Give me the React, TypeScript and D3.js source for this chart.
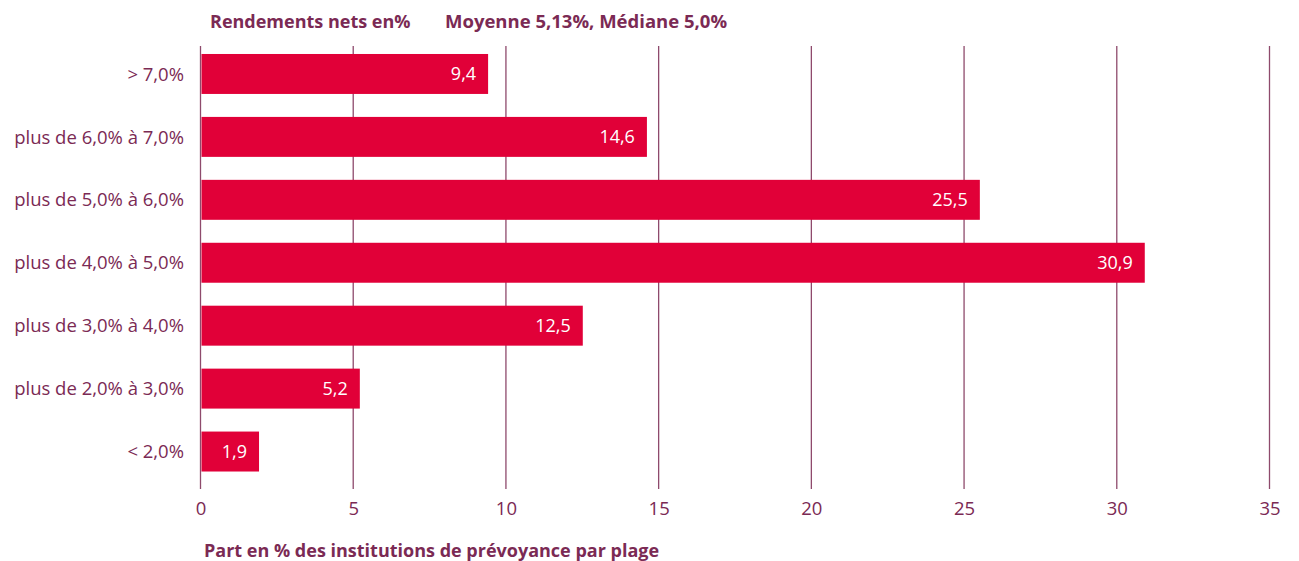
import React from "react";
import * as d3 from "d3";

const categories = [
  "> 7,0%",
  "plus de 6,0% à 7,0%",
  "plus de 5,0% à 6,0%",
  "plus de 4,0% à 5,0%",
  "plus de 3,0% à 4,0%",
  "plus de 2,0% à 3,0%",
  "< 2,0%",
];
const values = [9.4, 14.6, 25.5, 30.9, 12.5, 5.2, 1.9];
const valueLabels = ["9,4", "14,6", "25,5", "30,9", "12,5", "5,2", "1,9"];
const xTicks = [0, 5, 10, 15, 20, 25, 30, 35];
const title1 = "Rendements nets en%";
const title2 = "Moyenne 5,13%, Médiane 5,0%";
const xTitle = "Part en % des institutions de prévoyance par plage";

const W = 1299;
const H = 561;
const FONT = "'Open Sans', 'Noto Sans', sans-serif";
const TEXT = "#7b2a54";
const GRID = "#8e4a6c";
const BAR = "#e10038";

export default function App() {
  const x = d3.scaleLinear().domain([0, 35]).range([201, 1270]);
  const y = d3
    .scaleBand<string>()
    .domain(categories)
    .range([42.5, 483])
    .paddingInner(0.365)
    .paddingOuter(0.1825);
  const gridTop = 46;
  const gridBottom = 489;

  return (
    <svg width={W} height={H} style={{ position: "absolute", left: 0, top: 0 }} fontFamily={FONT}>
      <rect width={W} height={H} fill="#fff" />
      {xTicks.map((t) => (
        <line
          key={"g" + t}
          x1={x(t) - 0.5}
          x2={x(t) - 0.5}
          y1={gridTop}
          y2={gridBottom}
          stroke={GRID}
          strokeWidth={1.3}
        />
      ))}
      {categories.map((c, i) => (
        <g key={c}>
          <rect
            x={x(0) + 0.5}
            y={y(c)!}
            width={x(values[i]) - x(0) - 0.5}
            height={y.bandwidth()}
            fill={BAR}
          />
          <text
            x={x(values[i]) - 12}
            y={y(c)! + y.bandwidth() / 2}
            dy="0.36em"
            textAnchor="end"
            fill="#fff"
            fontSize={18}
          >
            {valueLabels[i]}
          </text>
          <text
            x={184}
            y={y(c)! + y.bandwidth() / 2}
            dy="0.36em"
            textAnchor="end"
            fill={TEXT}
            fontSize={18.5}
          >
            {c}
          </text>
        </g>
      ))}
      {xTicks.map((t) => (
        <text
          key={"t" + t}
          x={x(t)}
          y={515}
          textAnchor="middle"
          fill={TEXT}
          fontSize={18.5}
        >
          {t}
        </text>
      ))}
      <text x={210} y={28} fill={TEXT} fontSize={18} fontWeight="bold">
        {title1}
      </text>
      <text x={445} y={28} fill={TEXT} fontSize={18.5} fontWeight="bold">
        {title2}
      </text>
      <text x={204} y={557} fill={TEXT} fontSize={18} fontWeight="bold">
        {xTitle}
      </text>
    </svg>
  );
}
